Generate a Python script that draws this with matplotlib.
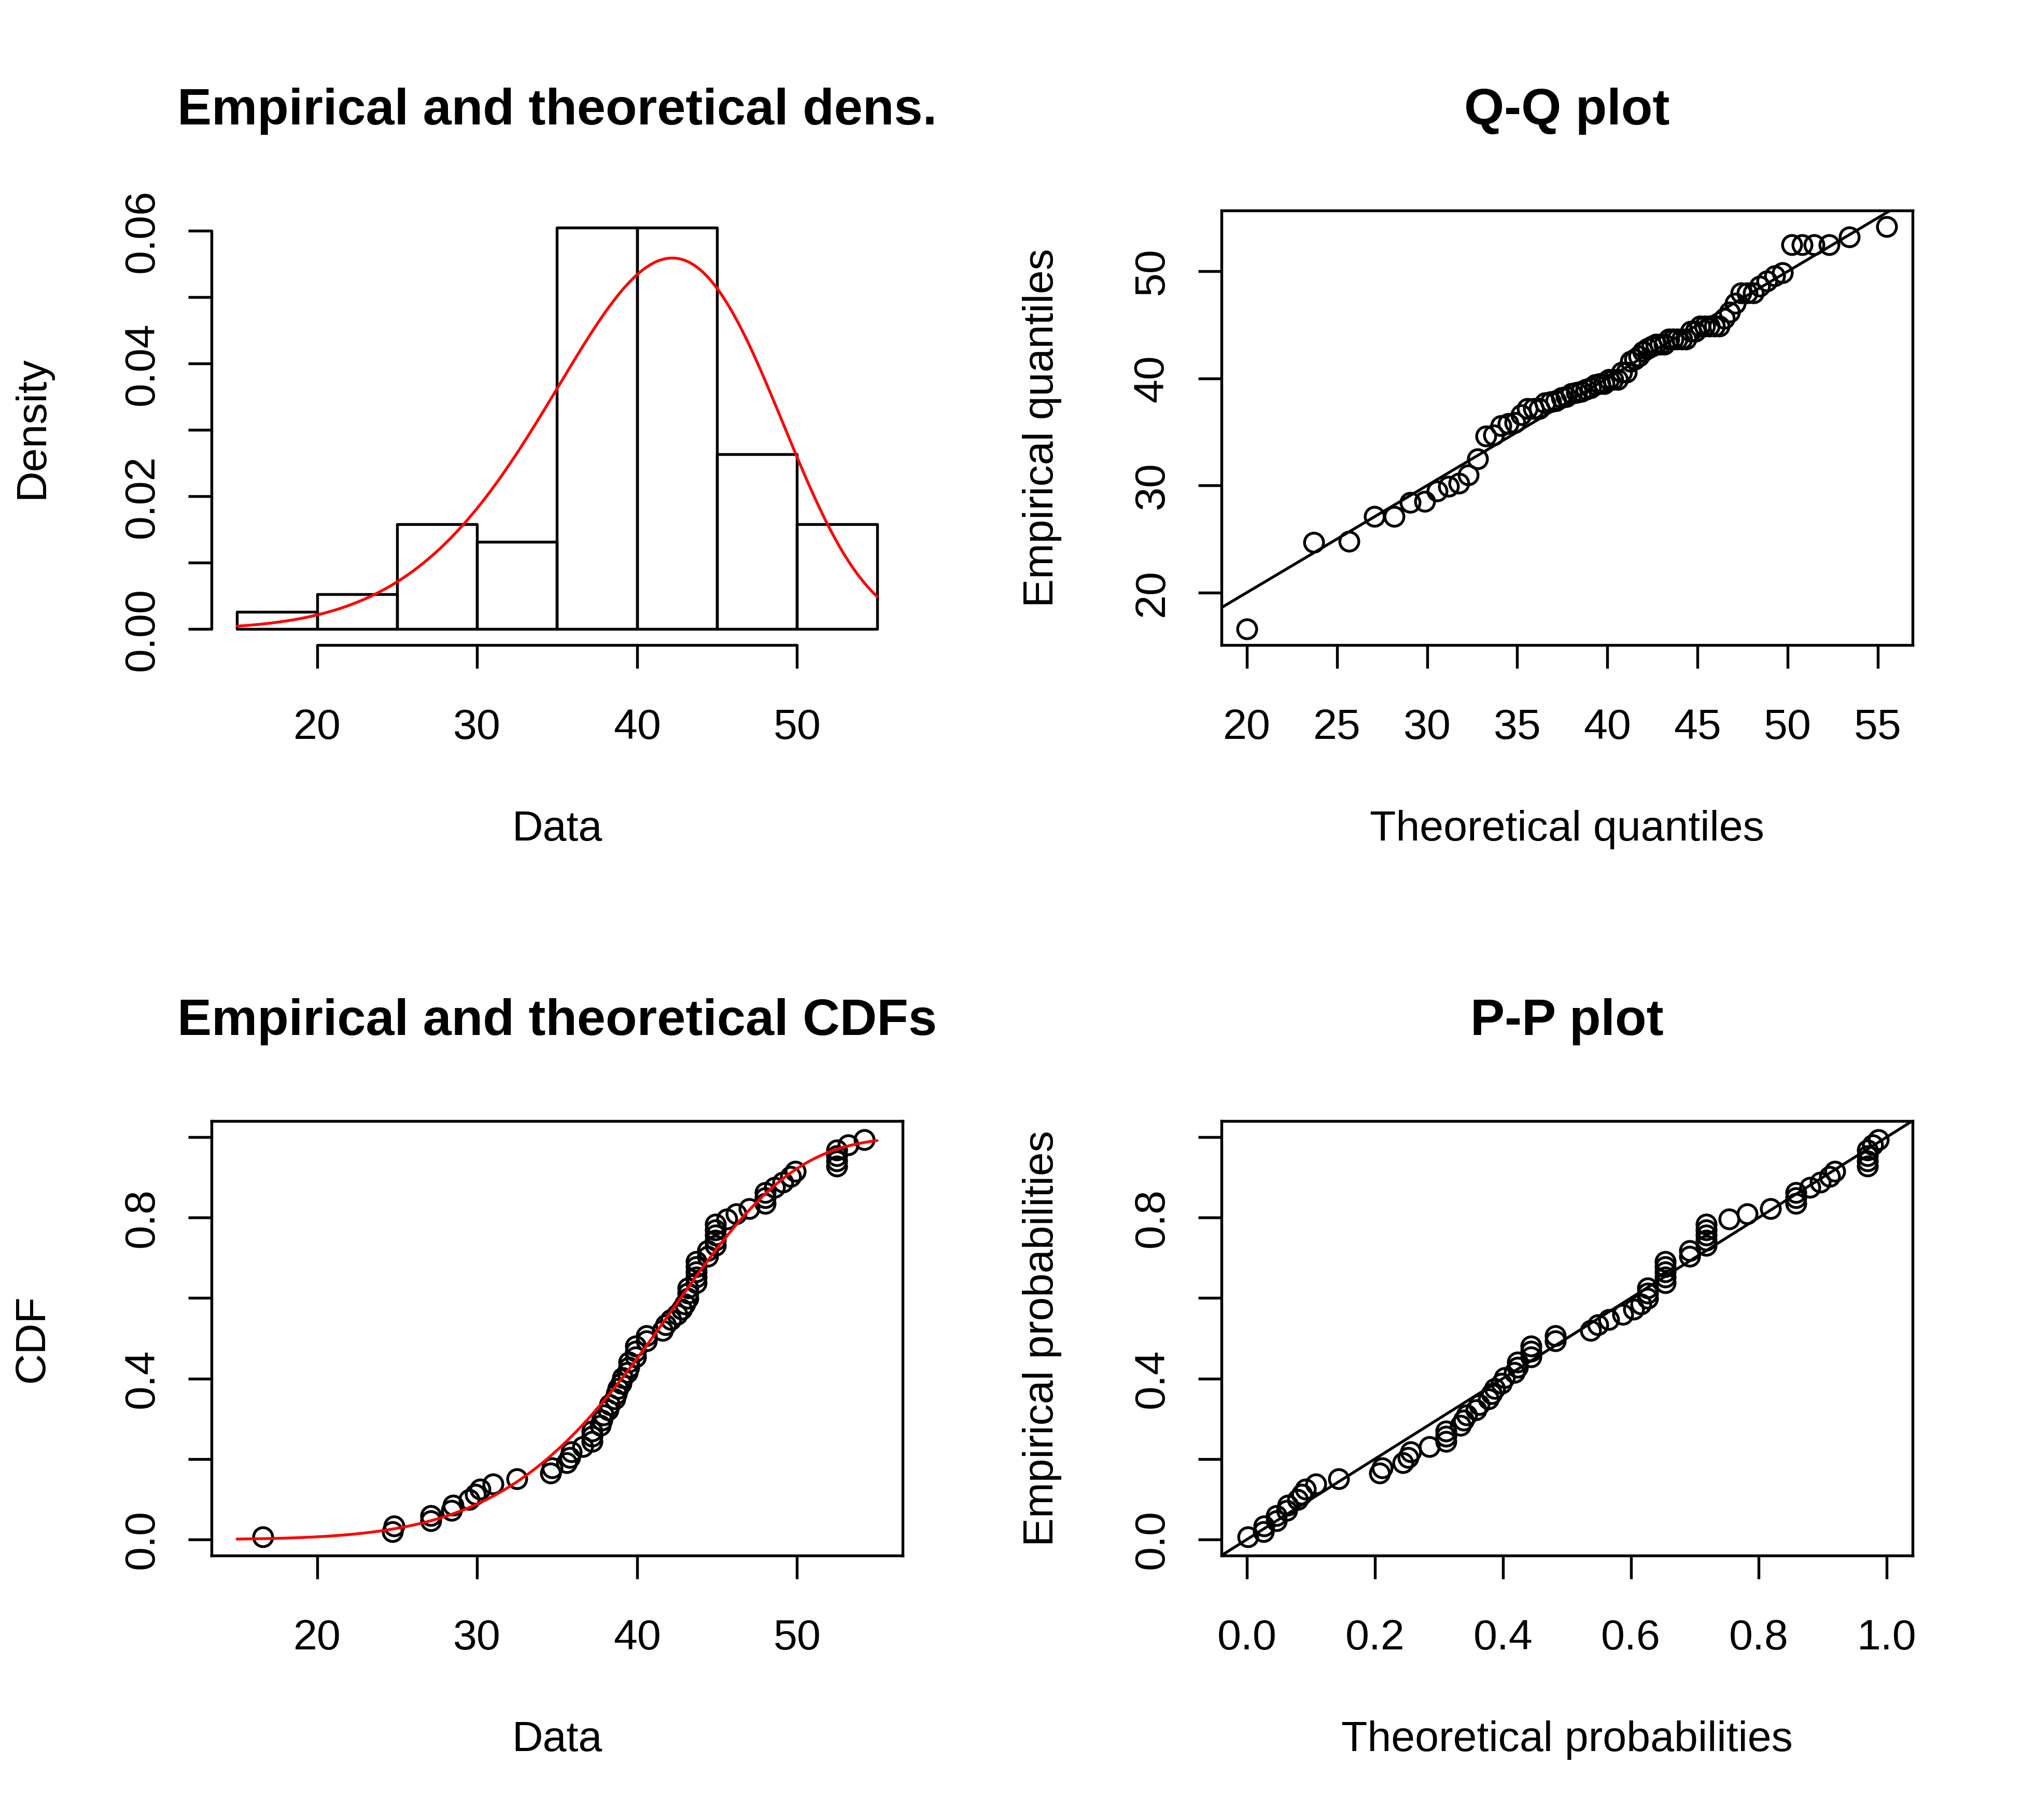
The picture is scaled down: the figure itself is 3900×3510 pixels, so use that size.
import numpy as np
import matplotlib
matplotlib.use("Agg")
import matplotlib.pyplot as plt

# ---- data ----
data = [16.6,
        24.7, 24.8,
        27.1, 27.1, 28.4, 28.5, 29.5, 29.9,
        30.2, 31.0, 32.5, 34.6, 34.7,
        35.6, 35.8, 35.9, 36.6, 37.2, 37.2, 37.2, 37.7, 37.8, 37.9, 38.2, 38.3,
        38.6, 38.7, 38.8, 39.0, 39.1, 39.4, 39.5, 39.5, 39.9, 39.9, 39.9,
        40.6, 40.6, 41.6, 41.8, 42.1, 42.5, 42.8, 43.0, 43.2, 43.2, 43.2,
        43.7, 43.7, 43.7, 43.7, 43.7, 44.4, 44.4, 44.9, 44.9, 44.9, 44.9, 44.9,
        45.6, 46.2, 47.0, 48.0, 48.0, 48.0, 48.6, 49.1, 49.6, 49.9,
        52.5, 52.5, 52.5, 52.5, 53.2, 54.2]
hist_breaks = [15, 20, 25, 30, 35, 40, 45, 50, 55]
weibull_shape = 6.5
weibull_scale = 43.3

dens_xticks = [20, 30, 40, 50]
dens_yticks = [0.00, 0.01, 0.02, 0.03, 0.04, 0.05, 0.06]
dens_ylabels = ["0.00", "", "0.02", "", "0.04", "", "0.06"]
qq_xticks = [20, 25, 30, 35, 40, 45, 50, 55]
qq_yticks = [20, 30, 40, 50]
prob_ticks = [0.0, 0.2, 0.4, 0.6, 0.8, 1.0]
prob_labels_y = ["0.0", "", "0.4", "", "0.8", ""]
prob_labels_x = ["0.0", "0.2", "0.4", "0.6", "0.8", "1.0"]

titles = ["Empirical and theoretical dens.", "Q-Q plot",
          "Empirical and theoretical CDFs", "P-P plot"]
xlabels = ["Data", "Theoretical quantiles", "Data", "Theoretical probabilities"]
ylabels = ["Density", "Empirical quantiles", "CDF", "Empirical probabilities"]

# ---- helpers ----
def wpdf(x):
    k, l = weibull_shape, weibull_scale
    z = np.asarray(x) / l
    return (k / l) * z ** (k - 1) * np.exp(-z ** k)

def wcdf(x):
    k, l = weibull_shape, weibull_scale
    return 1 - np.exp(-(np.asarray(x) / l) ** k)

def wq(p):
    k, l = weibull_shape, weibull_scale
    return l * (-np.log(1 - np.asarray(p))) ** (1 / k)

def rlim(v):
    lo, hi = float(np.min(v)), float(np.max(v))
    d = 0.04 * (hi - lo)
    return lo - d, hi + d

plt.rcParams['font.family'] = ['Liberation Sans', 'DejaVu Sans']
plt.rcParams['lines.solid_capstyle'] = 'round'
plt.rcParams['lines.solid_joinstyle'] = 'round'
FS = 19.8
TFS = 23.8
LW = 1.3
plt.rcParams['axes.linewidth'] = LW

fig = plt.figure(figsize=(13, 11.7), dpi=300)
W, H = 0.3418, 0.2388
pos = [[0.1046, 0.6456, W, H], [0.6040, 0.6456, W, H],
       [0.1046, 0.1453, W, H], [0.6040, 0.1453, W, H]]
axes = [fig.add_axes(p) for p in pos]

s = np.sort(np.array(data))
n = len(s)
pp = (np.arange(1, n + 1) - 0.5) / n
mk = dict(marker='o', ls='none', mfc='none', mec='black', ms=8.8, mew=LW)

# density
ax = axes[0]
ax.hist(s, bins=hist_breaks, density=True, fill=False, edgecolor='black',
        linewidth=LW, joinstyle='round', capstyle='round')
xx = np.linspace(hist_breaks[0], hist_breaks[-1], 400)
ax.plot(xx, wpdf(xx), color='#FF0000', lw=LW)
ax.set_xlim(13.4, 56.6)
ax.set_ylim(-0.0024, 0.0631)
ax.spines['top'].set_visible(False)
ax.spines['right'].set_visible(False)
ax.spines['left'].set_bounds(0, 0.06)
ax.spines['bottom'].set_bounds(20, 50)
ax.spines['left'].set_capstyle('round')
ax.spines['bottom'].set_capstyle('round')
ax.set_xticks(dens_xticks)
ax.set_yticks(dens_yticks)
ax.set_yticklabels(dens_ylabels)

# Q-Q
ax = axes[1]
tq = wq(pp)
ax.plot(tq, s, **mk)
ax.axline((0, 0), slope=1, color='black', lw=LW)
ax.set_xlim(*rlim(tq))
ax.set_ylim(*rlim(s))
ax.set_xticks(qq_xticks)
ax.set_yticks(qq_yticks)

# CDF
ax = axes[2]
ax.plot(s, pp, **mk)
ax.plot(xx, wcdf(xx), color='#FF0000', lw=LW)
ax.set_xlim(13.4, 56.6)
ax.set_ylim(-0.04, 1.04)
ax.set_xticks(dens_xticks)
ax.set_yticks(prob_ticks)
ax.set_yticklabels(prob_labels_y)

# P-P
ax = axes[3]
ax.plot(wcdf(s), pp, **mk)
ax.axline((0, 0), slope=1, color='black', lw=LW)
ax.set_xlim(-0.04, 1.04)
ax.set_ylim(-0.04, 1.04)
ax.set_xticks(prob_ticks)
ax.set_xticklabels(prob_labels_x)
ax.set_yticks(prob_ticks)
ax.set_yticklabels(prob_labels_y)

for i, ax in enumerate(axes):
    ax.tick_params(axis='both', direction='out', length=10.8, width=LW, labelsize=FS)
    ax.tick_params(axis='x', pad=18.5)
    ax.tick_params(axis='y', pad=12, labelrotation=90)
    for lab in ax.get_yticklabels():
        lab.set_va('center')
    ax.set_title(titles[i], fontsize=TFS, fontweight='bold', y=1.228, pad=0, va='center')
    ax.set_xlabel(xlabels[i], fontsize=FS, va='center')
    ax.xaxis.set_label_coords(0.5, -0.425)
    ax.set_ylabel(ylabels[i], fontsize=FS, va='center')
    ax.yaxis.set_label_coords(-0.2593, 0.5)

fig.savefig("out.png", dpi=300, facecolor='white')
